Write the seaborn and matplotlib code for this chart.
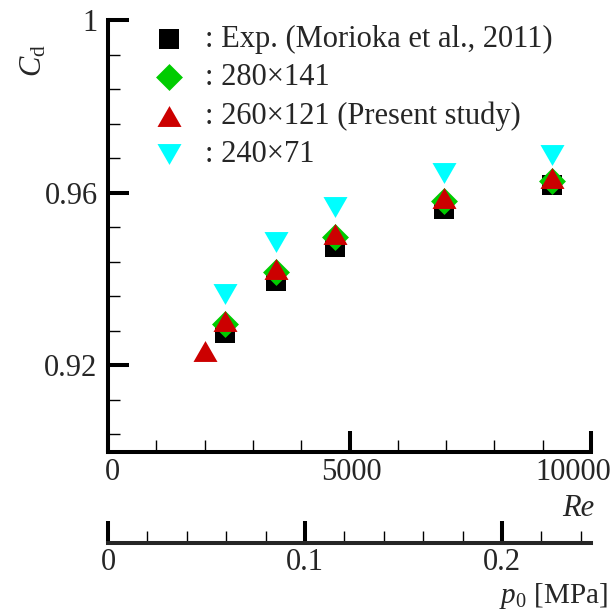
import matplotlib
matplotlib.use("Agg")
import matplotlib.pyplot as plt
from matplotlib.ticker import MultipleLocator, FuncFormatter
from matplotlib.transforms import ScaledTranslation
import seaborn as sns

# Discharge coefficient versus Reynolds number
re_exp = [2420, 3470, 4710, 6960, 9200]
cd_exp = [0.9275, 0.9394, 0.9475, 0.9563, 0.9617]

re_280 = [2420, 3470, 4710, 6960, 9200]
cd_280 = [0.9295, 0.9415, 0.9498, 0.9580, 0.9626]

re_260 = [2010, 2420, 3470, 4710, 6960, 9200]
cd_260 = [0.9234, 0.9303, 0.9422, 0.9505, 0.9587, 0.9634]

re_240 = [2420, 3470, 4710, 6960, 9200]
cd_240 = [0.9366, 0.9486, 0.9567, 0.9646, 0.9688]

labels = [": Exp. (Morioka et al., 2011)", ": 280\u00d7141",
          ": 260\u00d7121 (Present study)", ": 240\u00d771"]

re_ticks = [0, 5000, 10000]
cd_ticks = [0.92, 0.96, 1.0]
p0_ticks = [0, 0.1, 0.2]

# stagnation pressure [MPa] per unit Reynolds number
P0_PER_RE = 2.4516e-5

sns.set_style("ticks")
plt.rcParams["font.family"] = ["Liberation Serif", "DejaVu Serif"]
plt.rcParams["mathtext.fontset"] = "custom"
plt.rcParams["mathtext.rm"] = "Liberation Serif"
plt.rcParams["mathtext.it"] = "Liberation Serif:italic"
plt.rcParams["font.size"] = 22

FS = 22
fig = plt.figure(figsize=(6.15, 6.16), dpi=100)
ax = fig.add_axes([108 / 615, 1 - 451.5 / 616, 483 / 615, 431.5 / 616])

tri_up = [(0, 0.87), (-1, -0.87), (1, -0.87)]
tri_dn = [(0, -0.87), (-1, 0.87), (1, 0.87)]

sns.scatterplot(x=re_exp, y=cd_exp, marker="s", s=207, color="black",
                linewidth=0, label=labels[0], ax=ax, zorder=3)
sns.scatterplot(x=re_280, y=cd_280, marker="D", s=188, color="#00cc00",
                linewidth=0, label=labels[1], ax=ax, zorder=4)
sns.scatterplot(x=re_260, y=cd_260, marker=tri_up, s=299, color="#cc0000",
                linewidth=0, label=labels[2], ax=ax, zorder=5)
sns.scatterplot(x=re_240, y=cd_240, marker=tri_dn, s=299, color="#00ffff",
                linewidth=0, label=labels[3], ax=ax, zorder=6)

ax.set_xlim(0, 10000)
ax.set_ylim(0.90, 1.0)

for side in ("top", "right"):
    ax.spines[side].set_visible(False)
for side in ("left", "bottom"):
    ax.spines[side].set_linewidth(2.9)
    ax.spines[side].set_color("black")

ax.set_xticks(re_ticks)
ax.set_yticks(cd_ticks)
ax.xaxis.set_minor_locator(MultipleLocator(1000))
ax.yaxis.set_minor_locator(MultipleLocator(0.008))
ax.yaxis.set_major_formatter(FuncFormatter(lambda v, p: f"{v:g}"))
ax.xaxis.set_major_formatter(FuncFormatter(lambda v, p: f"{v:g}"))

ax.tick_params(axis="both", which="major", direction="in", length=15,
               width=2.9, color="black", labelsize=FS)
ax.tick_params(axis="both", which="minor", direction="in", length=8.5,
               width=1.0, color="black")
ax.tick_params(axis="x", which="major", pad=4.8)
ax.tick_params(axis="y", which="major", pad=7.5)

# keep the outer Reynolds labels inside the frame
for lab, dx in zip(ax.get_xticklabels(), [4, 2, -18]):
    lab.set_transform(lab.get_transform()
                      + ScaledTranslation(dx / 100, 0, fig.dpi_scale_trans))

ax.set_xlabel("Re", fontstyle="italic", va="center", ha="right")
ax.xaxis.set_label_coords(1.006, -0.132)
ax.set_ylabel(r"$C_{\mathrm{d}}$")
ax.yaxis.set_label_coords(-0.1238, 0.905)

# pressure scale below the Reynolds-number axis
sec = ax.secondary_xaxis(-0.2114, functions=(lambda r: r * P0_PER_RE,
                                             lambda p: p / P0_PER_RE))
sec.spines["bottom"].set_linewidth(2.9)
sec.set_xticks(p0_ticks)
sec.xaxis.set_minor_locator(MultipleLocator(0.02))
sec.xaxis.set_major_formatter(FuncFormatter(lambda v, p: f"{v:g}"))
sec.tick_params(axis="x", which="major", direction="in", length=15.5,
                width=2.9, color="black", labelsize=FS, pad=4.1)
sec.tick_params(axis="x", which="minor", direction="in", length=9,
                width=1.0, color="black")
sec.set_xlabel(r"$p_0$ [MPa]", va="center", ha="right", fontsize=21)
sec.xaxis.set_label_coords(1.034, -0.334, transform=ax.transAxes)

ax.legend(loc="upper left", bbox_to_anchor=(154 / 615, 1 - 24.8 / 616),
          bbox_transform=fig.transFigure, frameon=False, borderpad=0,
          borderaxespad=0, handlelength=1.0, handletextpad=0.67,
          labelspacing=0.3, fontsize=FS)

fig.savefig("out.png", dpi=100, facecolor="white")
